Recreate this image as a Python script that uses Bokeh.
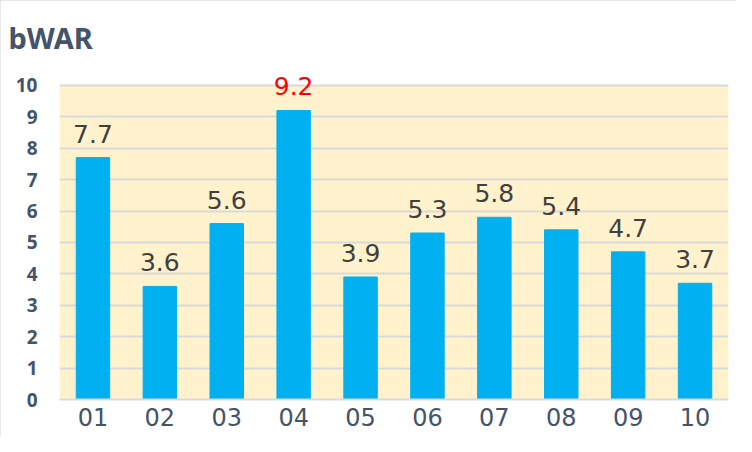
from bokeh.plotting import figure
from bokeh.models import ColumnDataSource, LabelSet, FactorRange, Range1d, SingleIntervalTicker, BoxAnnotation
from bokeh.core.properties import value
from bokeh.embed import file_html
from bokeh.resources import INLINE

categories = ["01", "02", "03", "04", "05", "06", "07", "08", "09", "10"]
values = [7.7, 3.6, 5.6, 9.2, 3.9, 5.3, 5.8, 5.4, 4.7, 3.7]
value_labels = ["7.7", "3.6", "5.6", "9.2", "3.9", "5.3", "5.8", "5.4", "4.7", "3.7"]
y_min, y_max = 0, 10

TEXT = "#44546A"
vmax = max(values)
label_colors = ["#FF0000" if v == vmax else "#404040" for v in values]

src = ColumnDataSource(dict(cat=categories, val=values, lab=value_labels, col=label_colors))

p = figure(width=736, height=436, output_backend="svg", toolbar_location=None,
           x_range=FactorRange(*categories, range_padding=0), y_range=Range1d(y_min, y_max + 0.6),
           min_border_left=59, min_border_right=8, min_border_top=66, min_border_bottom=37)

p.title.text = "bWAR"
p.title.text_font = "Noto Sans"
p.title.text_font_size = "29px"
p.title.text_font_style = "bold"
p.title.text_color = TEXT
p.title.offset = -51
p.title.standoff = 19

p.background_fill_color = "white"
p.border_fill_color = "white"
p.outline_line_color = None

bg = BoxAnnotation(bottom=y_min, top=y_max, fill_color="#FFF2CC", fill_alpha=1,
                   line_color=None, level="image")
p.add_layout(bg)

p.vbar(x="cat", top="val", width=0.5, color="#00B0F0", source=src)

labels = LabelSet(x="cat", y="val", text="lab", source=src, text_align="center",
                  text_baseline="alphabetic", y_offset=15, text_color="col",
                  text_font_size="25px", text_font=value("DejaVu Sans"))
p.add_layout(labels)

p.xgrid.grid_line_color = None
p.ygrid.grid_line_color = "#D9D9D9"
p.ygrid.grid_line_width = 2
p.yaxis.ticker = SingleIntervalTicker(interval=1)

p.yaxis.axis_line_color = None
p.yaxis.major_tick_line_color = None
p.yaxis.minor_tick_line_color = None
p.yaxis.major_tick_out = 0
p.yaxis.major_tick_in = 0
p.yaxis.minor_tick_out = 0
p.yaxis.major_label_text_font = "Noto Sans"
p.yaxis.major_label_text_font_size = "19px"
p.yaxis.major_label_text_font_style = "bold"
p.yaxis.major_label_text_color = TEXT
p.yaxis.major_label_standoff = 22

p.xaxis.axis_line_color = "#D9D9D9"
p.xaxis.axis_line_width = 2
p.xaxis.major_tick_line_color = None
p.xaxis.minor_tick_line_color = None
p.xaxis.major_tick_out = 0
p.xaxis.major_tick_in = 0
p.xaxis.major_label_text_font = "DejaVu Sans"
p.xaxis.major_label_text_font_size = "24px"
p.xaxis.major_label_text_color = TEXT
p.xaxis.major_label_standoff = 8

p.styles = {"outline": "2px solid #E0E0E0", "outline-offset": "-2px"}

open("out.html", "w").write(file_html(p, INLINE))
